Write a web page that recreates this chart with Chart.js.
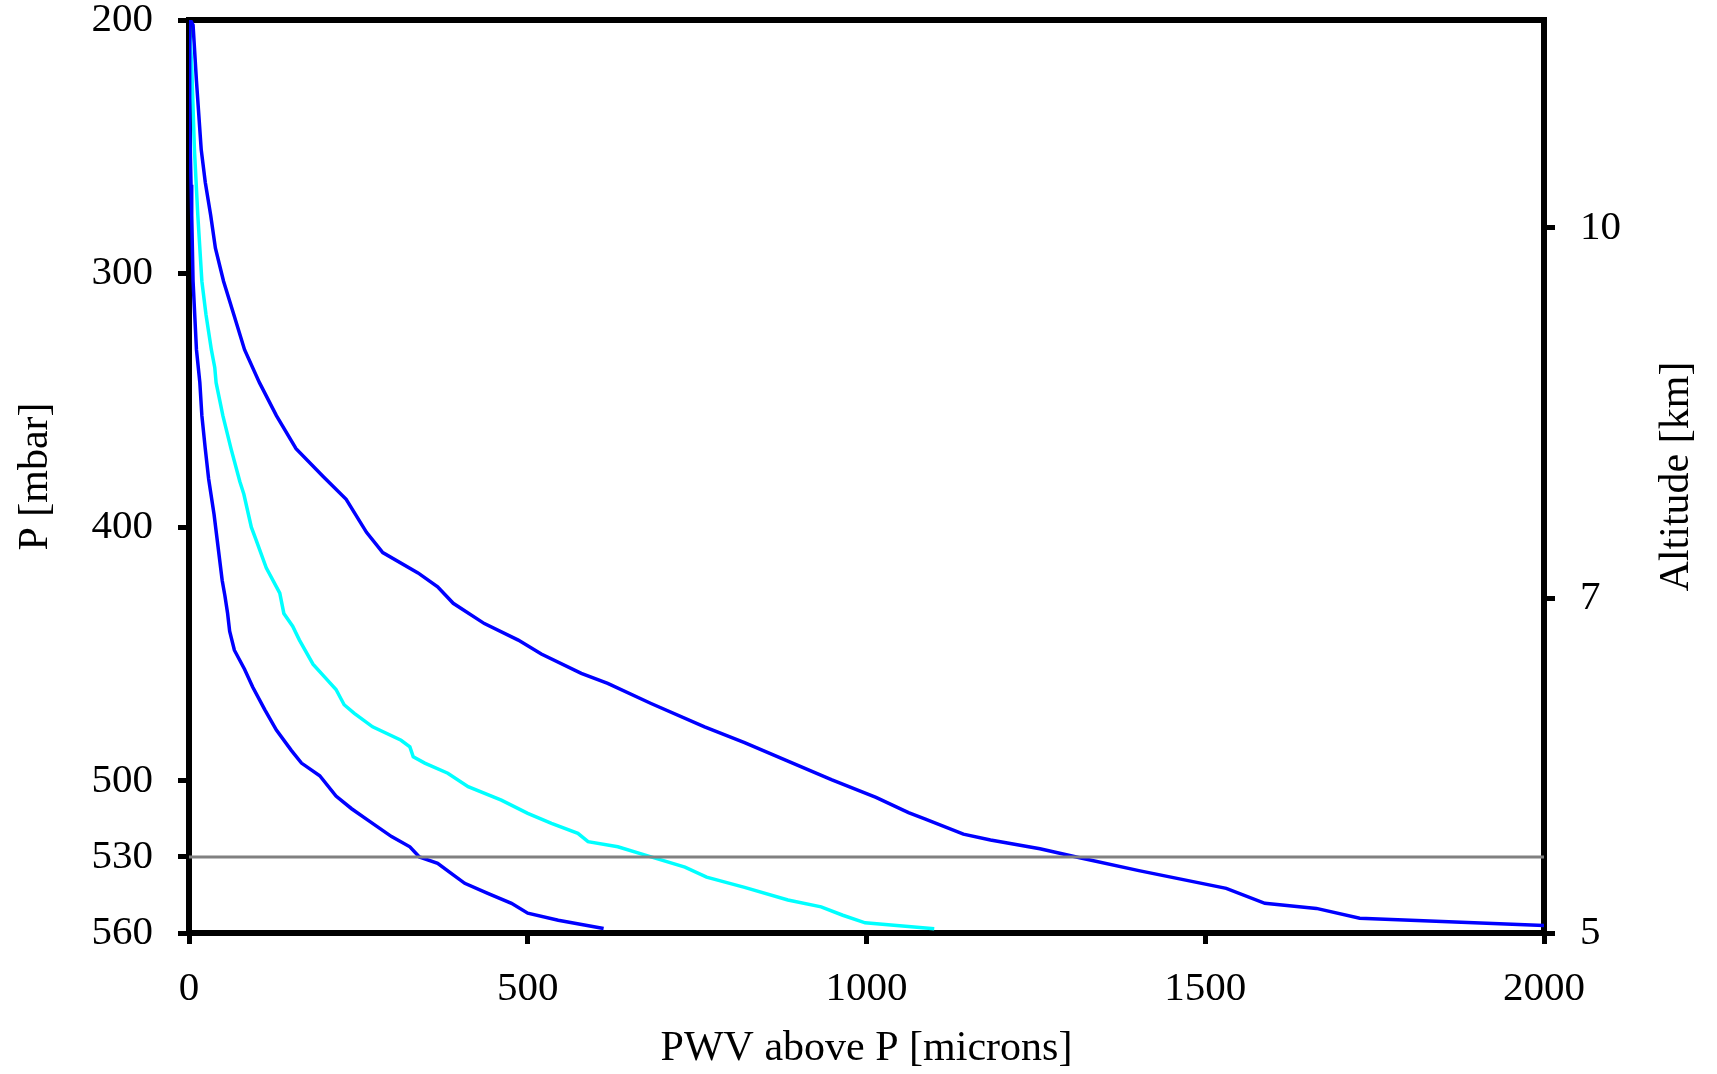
<!DOCTYPE html>
<html>
<head>
  <title>PWV above P</title>
  <script src="https://cdn.jsdelivr.net/npm/chart.js@4.4.1/dist/chart.umd.min.js"></script>
  <style>
    body { margin: 0; background: #fff; }
  </style>
</head>
<body>
<canvas id="pwvChart" width="1717" height="1074"></canvas>
<script>
// profiles: pressure [mbar] and PWV above it [microns]
var pDry = [200, 240, 265, 277, 303, 330, 343, 356, 369, 381, 395, 408, 421, 427, 434, 441, 448.5, 456, 463, 472,
  480, 488, 493, 498, 506, 511, 515.5, 522, 526, 530, 532.5, 536.5, 540.4, 544.4, 548.3, 552.2, 555, 558.2]
var pwvDry = [0, 1, 3, 4, 6, 11, 16, 19, 24, 29, 37, 43, 49, 53, 57, 60, 67, 82, 94, 112,
  129, 151, 166, 193, 217, 240, 264, 299, 326, 340, 367, 387, 407, 441, 476, 500, 545, 612]

var pMid = [200, 218, 251, 277, 303, 316, 330, 337, 343, 356, 369, 382, 387, 400, 405, 416, 426, 434, 439, 444.5,
  454, 459, 464, 470, 473.4, 478.7, 484, 486.6, 490.5, 493, 497, 502.3, 507.6, 512.8, 516.8, 520.7, 524, 526, 530, 534,
  538, 542, 547, 549.7, 553, 556, 558.3]
var pwvMid = [0, 4, 8, 13, 19, 25, 33, 38, 40, 50, 62, 75, 81, 92, 99, 114, 134, 140, 153, 163,
  183, 200, 217, 229, 244, 271, 313, 326, 331, 348, 382, 412, 461, 500, 535, 574, 589, 633, 682, 732,
  764, 820, 884, 933, 965, 998, 1100]

var pWet = [200, 202, 224, 251, 264, 277, 290, 303, 316, 330, 343, 356, 369, 380, 389, 402, 410, 418, 423.5, 430,
  438, 444.5, 450, 457.6, 461.6, 469.5, 478.7, 484.9, 492.2, 499.6, 506.5, 512.5, 515, 521, 523.3, 526.8, 530.2, 535.4, 542.4, 548.3,
  550.3, 554.2, 557]
var pwvWet = [2, 6, 11, 18, 24, 32, 39, 51, 66, 82, 104, 129, 158, 198, 232, 262, 286, 338, 367, 390,
  436, 486, 520, 579, 618, 682, 761, 820, 884, 949, 1014, 1062, 1086, 1143, 1183, 1256, 1313, 1402, 1531, 1588,
  1664, 1728, 2000]

var refP = 530 // site level
var pwvTicks = [0, 500, 1000, 1500, 2000]
var pTicks = [200, 300, 400, 500, 530, 560]
var altKm = [10, 7, 5]
var altP = [282, 428, 560]

function toPoints(xs, ys){
  var pts = []
  for(i=0;i<xs.length;i++){
    pts.push({x: xs[i], y: ys[i]})
  }
  return pts
}

// fixed box sizes so the plot area sits where it does in the original
function fixSize(w, h){
  return function(s){
    if(w != null){ s.width = w }
    if(h != null){ s.height = h }
    s.paddingTop = 0; s.paddingBottom = 0; s.paddingLeft = 0; s.paddingRight = 0
  }
}

Chart.defaults.font.family = "'Liberation Serif', 'Times New Roman', serif"
Chart.defaults.color = "#000"

var tickGrid = {display: true, drawOnChartArea: false, drawTicks: true, tickLength: 11, lineWidth: 5, color: "#000"}
var axisBorder = {display: true, width: 6, color: "#000"}
var plain = function(v){ return String(v) }

// right title reads bottom-to-top like the left one
var altTitle = {
  id: "altTitle",
  afterDraw: function(chart){
    var s = chart.scales.alt
    var ctx = chart.ctx
    ctx.save()
    ctx.translate(s.right - 40, (s.top + s.bottom) / 2)
    ctx.rotate(-Math.PI / 2)
    ctx.font = "42px 'Liberation Serif'"
    ctx.fillStyle = "#000"
    ctx.textAlign = "center"
    ctx.textBaseline = "middle"
    ctx.fillText("Altitude [km]", 0, 0)
    ctx.restore()
  }
}

var pwvChart = new Chart(document.getElementById("pwvChart").getContext("2d"), {
  type: "scatter",
  data: {
    datasets: [
      {data: toPoints([0, 2000], [refP, refP]), borderColor: "#808080", borderWidth: 3},
      {data: toPoints(pwvDry, pDry), borderColor: "#0000ff", borderWidth: 3.5},
      {data: toPoints(pwvMid, pMid), borderColor: "#00ffff", borderWidth: 3.5},
      {data: toPoints(pwvWet, pWet), borderColor: "#0000ff", borderWidth: 3.5}
    ]
  },
  options: {
    responsive: false,
    animation: false,
    showLine: true,
    elements: {point: {radius: 0, hoverRadius: 0}, line: {tension: 0}},
    layout: {padding: 0},
    plugins: {legend: {display: false}, tooltip: {enabled: false}},
    scales: {
      x: {
        type: "linear", position: "bottom", min: 0, max: 2000,
        afterBuildTicks: function(s){ s.ticks = pwvTicks.map(function(v){ return {value: v} }) },
        afterFit: fixSize(null, 141),
        grid: tickGrid, border: axisBorder,
        ticks: {font: {size: 41}, padding: 21, maxRotation: 0, callback: plain},
        title: {display: true, text: "PWV above P [microns]", font: {size: 42}, padding: {top: 0, bottom: 0}}
      },
      xTop: {
        type: "linear", position: "top", min: 0, max: 2000,
        afterFit: fixSize(null, 20),
        grid: {display: false}, border: axisBorder,
        ticks: {display: false}
      },
      y: {
        type: "linear", position: "left", min: 200, max: 560, reverse: true, z: 1,
        afterBuildTicks: function(s){ s.ticks = pTicks.map(function(v){ return {value: v} }) },
        afterFit: fixSize(189, null),
        grid: tickGrid, border: axisBorder,
        ticks: {font: {size: 41}, padding: 25, callback: plain},
        title: {display: true, text: "P [mbar]", font: {size: 42}, padding: {top: 11, bottom: 0}}
      },
      alt: {
        type: "linear", position: "right", min: 200, max: 560, reverse: true,
        afterBuildTicks: function(s){ s.ticks = altP.map(function(v){ return {value: v} }) },
        afterFit: fixSize(173, null),
        grid: tickGrid, border: axisBorder,
        ticks: {font: {size: 41}, padding: 25, callback: function(v, idx){ return altKm[idx] }}
      }
    }
  },
  plugins: [altTitle]
})
</script>
</body>
</html>
